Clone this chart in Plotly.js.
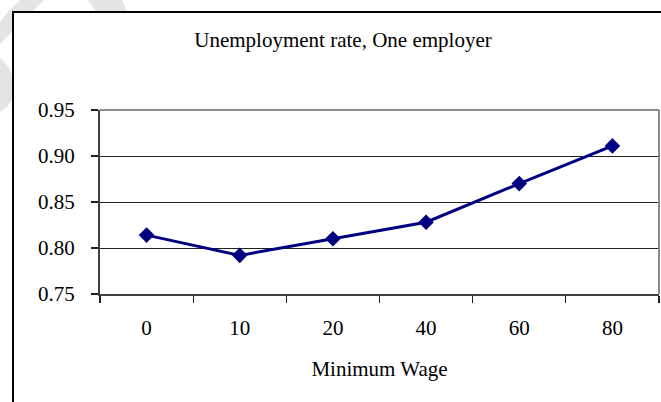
<!DOCTYPE html>
<html>
<head>
<meta charset="utf-8">
<script src="https://cdn.plot.ly/plotly-3.0.1.min.js"></script>
<style>html,body{margin:0;padding:0;background:#fff;}#chart{width:661px;height:402px;}</style>
</head>
<body>
<div id="chart"></div>
<script>
const chartTitle = "Unemployment rate, One employer";
const xAxisTitle = "Minimum Wage";
const minimumWage = ["0", "10", "20", "40", "60", "80"];
const unemploymentRate = [0.814, 0.792, 0.810, 0.828, 0.870, 0.911];
const yTickValues = [0.75, 0.80, 0.85, 0.90, 0.95];

const W = 661, H = 402;
const M = {l: 100, r: 2, t: 110, b: 108};
const pw = W - M.l - M.r, ph = H - M.t - M.b;
const px = x => (x - M.l) / pw;
const py = y => (H - M.b - y) / ph;
function pathPx(pts) {
  return 'M' + pts.map(p => px(p[0]).toFixed(4) + ',' + py(p[1]).toFixed(4)).join(' L') + ' Z';
}

const font = {family: 'Liberation Serif, Times New Roman, serif', size: 21, color: '#000'};

const trace = {
  type: 'scatter',
  mode: 'lines+markers',
  x: minimumWage,
  y: unemploymentRate,
  line: {color: '#000080', width: 3},
  marker: {symbol: 'diamond', size: 12, color: '#000080'},
  cliponaxis: false,
  hoverinfo: 'skip'
};

const shapes = [
  {type: 'path', xref: 'paper', yref: 'paper', layer: 'below', line: {width: 0}, fillcolor: '#e4e4e4',
   path: pathPx([[20,0],[44,0],[30,14],[14,30],[0,44],[0,22],[8,12]])},
  {type: 'path', xref: 'paper', yref: 'paper', layer: 'below', line: {width: 0}, fillcolor: '#e4e4e4',
   path: pathPx([[0,58],[8,66],[14,80],[14,98],[6,108],[0,112]])},
  {type: 'path', xref: 'paper', yref: 'paper', layer: 'below', line: {width: 0}, fillcolor: '#e4e4e4',
   path: pathPx([[88,0],[122,0],[128,14],[98,14]])},
  // frame interior
  {type: 'path', xref: 'paper', yref: 'paper', layer: 'below', fillcolor: '#fff',
   line: {width: 0},
   path: 'M' + px(13) + ',' + py(440) + ' L' + px(13) + ',' + py(12) + ' L' + px(700) + ',' + py(12) + ' L' + px(700) + ',' + py(440) + ' Z'},
  // frame edges
  {type: 'line', xref: 'paper', yref: 'paper', layer: 'above', line: {color: '#000', width: 2},
   x0: px(12), x1: px(700), y0: py(12), y1: py(12)},
  {type: 'line', xref: 'paper', yref: 'paper', layer: 'above', line: {color: '#000', width: 2},
   x0: px(13), x1: px(13), y0: py(11), y1: py(440)},
  // plot area border (top and right)
  {type: 'line', xref: 'paper', yref: 'paper', layer: 'below', line: {color: '#8c8c8c', width: 2},
   x0: 0, x1: 1, y0: 1, y1: 1},
  {type: 'line', xref: 'paper', yref: 'paper', layer: 'above', line: {color: '#8c8c8c', width: 2},
   x0: 1, x1: 1, y0: 0, y1: 1}
];

const layout = {
  width: W, height: H,
  margin: M,
  paper_bgcolor: '#fff',
  plot_bgcolor: '#fff',
  showlegend: false,
  font: font,
  title: {
    text: chartTitle, font: font,
    xref: 'container', yref: 'container',
    x: 343 / W, xanchor: 'center',
    y: 1 - 40 / H, yanchor: 'middle'
  },
  xaxis: {
    type: 'category',
    range: [-0.5, 5.5],
    autorange: false,
    showgrid: false,
    showline: true, linecolor: '#404040', linewidth: 2,
    ticks: 'outside', tickson: 'boundaries', ticklen: 7, tickcolor: '#202020', tickwidth: 1.2,
    tickfont: font,
    ticklabelstandoff: 14,
    title: {text: xAxisTitle, font: font, standoff: 22},
    zeroline: false,
    fixedrange: true
  },
  yaxis: {
    range: [0.75, 0.95],
    autorange: false,
    tickvals: yTickValues,
    tickformat: '.2f',
    showgrid: true, gridcolor: '#222', gridwidth: 1,
    showline: true, linecolor: '#404040', linewidth: 2,
    ticks: 'outside', ticklen: 7, tickcolor: '#202020', tickwidth: 1.2,
    tickfont: font,
    ticklabelstandoff: 12,
    zeroline: false,
    fixedrange: true
  },
  shapes: shapes
};

Plotly.newPlot('chart', [trace], layout, {displayModeBar: false, staticPlot: true});
</script>
</body>
</html>
